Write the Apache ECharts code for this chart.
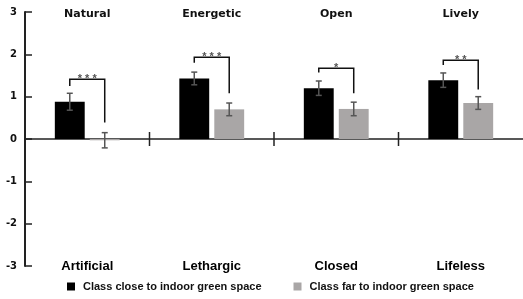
<!DOCTYPE html>
<html>
<head>
    <meta charset="utf-8">
    <title>ECharts</title>
    <script src="https://cdn.jsdelivr.net/npm/echarts@6/dist/echarts.min.js"></script>
</head>
<body style="margin:0">
    <div id="main" style="width: 523px;height:299px;"></div>
    <script type="text/javascript">
        // data
        var topLabels = ['Natural', 'Energetic', 'Open', 'Lively'];
        var bottomLabels = ['Artificial', 'Lethargic', 'Closed', 'Lifeless'];
        var closeMeans = [0.88, 1.43, 1.20, 1.39];
        var closeErrors = [0.20, 0.15, 0.17, 0.17];
        var farMeans = [-0.03, 0.70, 0.71, 0.85];
        var farErrors = [0.18, 0.15, 0.16, 0.15];
        // significance brackets: top line, left leg end, right leg end
        var bracketTop = [1.41, 1.93, 1.67, 1.86];
        var bracketLeft = [1.25, 1.80, 1.57, 1.75];
        var bracketRight = [0.39, 1.08, 1.08, 1.17];
        var stars = ['* * *', '* * *', '*', '* *'];
        // group separators sit between these categories
        var separatorAt = [1, 2, 3];

        var BAR_W = 0.24, BAR_GAP = 0.17;
        var offset = BAR_W * (1 + BAR_GAP) / 2;

        var errData = [];
        for (var i = 0; i < topLabels.length; i++) {
            errData.push([i, closeMeans[i], closeErrors[i], -1]);
            errData.push([i, farMeans[i], farErrors[i], 1]);
        }
        var bracketData = [];
        for (var j = 0; j < topLabels.length; j++) {
            bracketData.push([j, bracketTop[j], bracketLeft[j], bracketRight[j]]);
        }
        var sepData = separatorAt.map(function (k) { return [k, 0]; });

        var myChart = echarts.init(document.getElementById('main'));

        var labelFont = { fontFamily: 'DejaVu Sans', fontWeight: 'bold', color: '#111' };
        var tickStyle = { color: '#222', width: 1.5 };

        var option = {
            animation: false,
            grid: { left: 25, top: 12, width: 500, bottom: 33 },
            legend: {
                data: ['Class close to indoor green space', 'Class far to indoor green space'],
                left: 62, top: 276,
                icon: 'rect', itemWidth: 8, itemHeight: 8, itemGap: 32,
                textStyle: { fontFamily: 'Liberation Sans', fontWeight: 700, fontSize: 11, color: '#111', padding: [0, 0, 0, 3] }
            },
            xAxis: [{
                type: 'category', data: topLabels, position: 'bottom',
                axisLine: { onZero: true, lineStyle: tickStyle },
                axisTick: { show: false },
                axisLabel: { show: false }
            }, {
                type: 'category', data: topLabels, position: 'top',
                axisLine: { show: false, onZero: false },
                axisTick: { show: false },
                axisLabel: Object.assign({ fontSize: 11, margin: -2, verticalAlign: 'middle' }, labelFont)
            }, {
                type: 'category', data: bottomLabels, position: 'bottom',
                axisLine: { show: false, onZero: false },
                axisTick: { show: false },
                axisLabel: { fontFamily: 'Liberation Sans', fontWeight: 700, fontSize: 13, color: '#000', margin: 0, verticalAlign: 'middle' }
            }],
            yAxis: {
                type: 'value', min: -3, max: 3, interval: 1,
                splitLine: { show: false },
                axisLine: { show: true, lineStyle: { color: '#222', width: 2 } },
                axisTick: { show: true, inside: true, length: 7, lineStyle: tickStyle },
                axisLabel: Object.assign({ fontSize: 10, margin: 8 }, labelFont)
            },
            series: [{
                name: 'Class close to indoor green space',
                type: 'bar', data: closeMeans,
                barWidth: (BAR_W * 100) + '%', barGap: (BAR_GAP * 100) + '%',
                itemStyle: { color: '#000' }
            }, {
                name: 'Class far to indoor green space',
                type: 'bar', data: farMeans,
                barWidth: (BAR_W * 100) + '%', barGap: (BAR_GAP * 100) + '%',
                itemStyle: { color: '#a9a6a6' }
            }, {
                // error bars
                type: 'custom', data: errData, z: 5,
                encode: { x: 0, y: 1 },
                renderItem: function (params, api) {
                    var idx = api.value(0), v = api.value(1), e = api.value(2), side = api.value(3);
                    var band = api.size([1, 0])[0];
                    var hi = api.coord([idx, v + e]);
                    var lo = api.coord([idx, v - e]);
                    var x = hi[0] + side * band * offset;
                    var style = { stroke: '#555', lineWidth: 1.5 };
                    return {
                        type: 'group',
                        children: [
                            { type: 'line', shape: { x1: x, y1: hi[1], x2: x, y2: lo[1] }, style: style },
                            { type: 'line', shape: { x1: x - 3, y1: hi[1], x2: x + 3, y2: hi[1] }, style: style },
                            { type: 'line', shape: { x1: x - 3, y1: lo[1], x2: x + 3, y2: lo[1] }, style: style }
                        ]
                    };
                }
            }, {
                // significance brackets
                type: 'custom', data: bracketData, z: 5,
                encode: { x: 0, y: 1 },
                renderItem: function (params, api) {
                    var idx = api.value(0);
                    var band = api.size([1, 0])[0];
                    var top = api.coord([idx, api.value(1)]);
                    var xl = top[0] - band * offset, xr = top[0] + band * offset;
                    var yl = api.coord([idx, api.value(2)])[1];
                    var yr = api.coord([idx, api.value(3)])[1];
                    return {
                        type: 'group',
                        children: [{
                            type: 'polyline',
                            shape: { points: [[xl, yl], [xl, top[1]], [xr, top[1]], [xr, yr]] },
                            style: { stroke: '#111', lineWidth: 1.5, fill: null }
                        }, {
                            type: 'text',
                            x: top[0], y: top[1] + 5,
                            style: {
                                text: stars[params.dataIndex], align: 'center', verticalAlign: 'bottom',
                                font: 'bold 11px "Liberation Sans"', fill: '#555'
                            }
                        }]
                    };
                }
            }, {
                // separators between groups, crossing the zero line
                type: 'custom', data: sepData, z: 5,
                encode: { x: 0, y: 1 },
                renderItem: function (params, api) {
                    var band = api.size([1, 0])[0];
                    var p = api.coord([api.value(0), api.value(1)]);
                    var x = p[0] - band / 2;
                    return {
                        type: 'line',
                        shape: { x1: x, y1: p[1] - 7, x2: x, y2: p[1] + 7 },
                        style: { stroke: '#222', lineWidth: 1.5 }
                    };
                }
            }]
        };

        myChart.setOption(option);
    </script>
</body>
</html>
